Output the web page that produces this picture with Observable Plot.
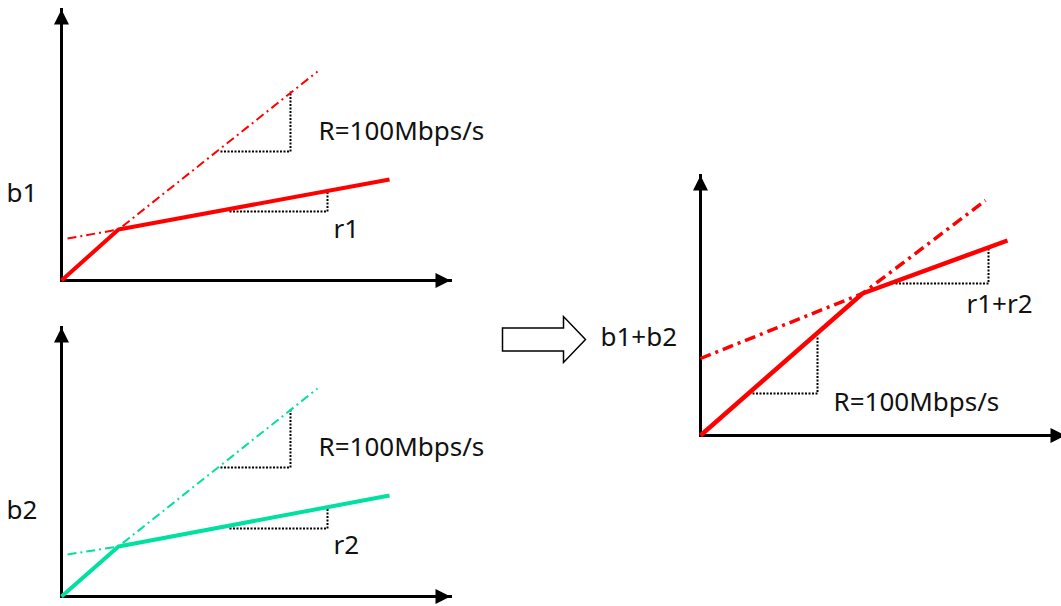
<!DOCTYPE html>
<html>
<head>
<meta charset="utf-8">
<script src="https://cdn.jsdelivr.net/npm/d3@7"></script>
<script src="https://cdn.jsdelivr.net/npm/@observablehq/plot@0.6"></script>
<style>
  html, body { margin: 0; padding: 0; background: #fff; }
  #page { position: relative; width: 1061px; height: 606px; overflow: hidden; background: #fff; }
  #page svg { position: absolute; }
</style>
</head>
<body>
<div id="page"></div>
<script>
// Token-bucket arrival curves. t = time, b = bits (arbitrary units, 1 unit = 10 px).

// Flow 1
const b1Curve     = [{t: 0, b: 0}, {t: 5.7, b: 5.1}, {t: 32.8, b: 10.1}];
const b1Peak      = [{t: 0.6, b: 4.2}, {t: 5.7, b: 5.1}, {t: 25.6, b: 20.9}];
const b1PeakStep  = [{t: 15.9, b: 12.9}, {t: 22.9, b: 12.9}, {t: 22.9, b: 18.9}];
const b1RateStep  = [{t: 16.8, b: 6.9}, {t: 26.6, b: 6.9}, {t: 26.6, b: 9.0}];
const b1Labels    = [
  {t: -5.5, b: 7.9, text: "b1"},
  {t: 25.7, b: 14.1, text: "R=100Mbps/s"},
  {t: 27.2, b: 4.3, text: "r1"}
];
const b1Axes      = [{t0: 0, b0: 0, t: 38.9, b: 0}, {t0: 0, b0: 0, t: 0, b: 27.1}];

// Flow 2
const b2Curve     = [{t: 0, b: 0}, {t: 5.7, b: 5.0}, {t: 32.8, b: 10.1}];
const b2Peak      = [{t: 0.6, b: 4.2}, {t: 5.7, b: 5.0}, {t: 25.6, b: 20.8}];
const b2PeakStep  = [{t: 15.9, b: 12.9}, {t: 22.9, b: 12.9}, {t: 22.9, b: 18.8}];
const b2RateStep  = [{t: 16.8, b: 6.8}, {t: 26.6, b: 6.8}, {t: 26.6, b: 8.9}];
const b2Labels    = [
  {t: -5.5, b: 7.8, text: "b2"},
  {t: 25.7, b: 14.1, text: "R=100Mbps/s"},
  {t: 27.2, b: 4.3, text: "r2"}
];
const b2Axes      = [{t0: 0, b0: 0, t: 38.9, b: 0}, {t0: 0, b0: 0, t: 0, b: 26.9}];

// Aggregate of both flows
const sumCurve    = [{t: 0, b: 0}, {t: 16.2, b: 14.2}, {t: 30.7, b: 19.5}];
const sumEnvelope = [{t: 0, b: 7.7}, {t: 16.2, b: 14.2}, {t: 28.5, b: 23.5}];
const sumPeakStep = [{t: 5.2, b: 4.2}, {t: 11.7, b: 4.2}, {t: 11.7, b: 9.8}];
const sumRateStep = [{t: 19.5, b: 15.2}, {t: 28.8, b: 15.2}, {t: 28.8, b: 18.8}];
const sumLabels   = [
  {t: -10.0, b: 9.0, text: "b1+b2"},
  {t: 13.3, b: 2.5, text: "R=100Mbps/s"},
  {t: 26.6, b: 12.3, text: "r1+r2"}
];
const sumAxes     = [{t0: 0, b0: 0, t: 36.5, b: 0}, {t0: 0, b0: 0, t: 0, b: 26.0}];
const connector   = [{t: -15.65, b: 9.6}];

const RED = "#ff0000";
const TEAL = "#00e0a0";
const FONT = "'Noto Sans', 'DejaVu Sans', sans-serif";

// Filled arrowheads whose tip sits on the dot's position
const headUp = {
  draw(ctx, size) {
    const r = Math.sqrt(size / Math.PI);
    ctx.moveTo(0, 0); ctx.lineTo(r, 2 * r); ctx.lineTo(-r, 2 * r); ctx.closePath();
  }
};
const headRight = {
  draw(ctx, size) {
    const r = Math.sqrt(size / Math.PI);
    ctx.moveTo(0, 0); ctx.lineTo(-2 * r, -r); ctx.lineTo(-2 * r, r); ctx.closePath();
  }
};
// Outlined block arrow, centred on the dot's position
const blockArrow = {
  draw(ctx, size) {
    const s = Math.sqrt(size / Math.PI) / 10;
    const L = 41.5 * s, hx = 19.5 * s, sh = 11.5 * s, hh = 23 * s;
    ctx.moveTo(-L, -sh); ctx.lineTo(hx, -sh); ctx.lineTo(hx, -hh); ctx.lineTo(L, 0);
    ctx.lineTo(hx, hh); ctx.lineTo(hx, sh); ctx.lineTo(-L, sh); ctx.closePath();
  }
};

function axisMarks(axes) {
  return [
    Plot.link(axes, {x1: "t0", y1: "b0", x2: "t", y2: "b", stroke: "black", strokeWidth: 3, strokeLinecap: "square"}),
    Plot.dot([axes[0]], {x: "t", y: "b", r: 7.5, symbol: headRight, fill: "black", stroke: "none"}),
    Plot.dot([axes[1]], {x: "t", y: "b", r: 7.5, symbol: headUp, fill: "black", stroke: "none"})
  ];
}

function labelMarks(labels) {
  return Plot.text(labels, {
    x: "t", y: "b", text: "text", textAnchor: "start", lineAnchor: "bottom",
    fontSize: 26, fontFamily: FONT, fill: "#111"
  });
}

function stepMarks(rows) {
  return Plot.line(rows, {x: "t", y: "b", stroke: "#000", strokeWidth: 2, strokeDasharray: "2,1.5", strokeLinecap: "butt"});
}

function panel({left, top, width, height, originX, originY, marks}) {
  const u = 10;
  const svg = Plot.plot({
    width, height,
    margin: 0,
    style: {background: "transparent", overflow: "visible"},
    x: {domain: [-originX / u, (width - originX) / u], range: [0, width], axis: null},
    y: {domain: [-(height - originY) / u, originY / u], range: [height, 0], axis: null},
    marks
  });
  svg.style.left = left + "px";
  svg.style.top = top + "px";
  document.getElementById("page").appendChild(svg);
}

function flowMarks(color, curve, peak, peakStep, rateStep, labels, axes) {
  return [
    ...axisMarks(axes),
    stepMarks(peakStep),
    stepMarks(rateStep),
    Plot.line(peak, {x: "t", y: "b", stroke: color, strokeWidth: 2, strokeDasharray: "9,4,2,4", strokeLinecap: "butt"}),
    Plot.line(curve, {x: "t", y: "b", stroke: color, strokeWidth: 4, strokeLinecap: "butt"}),
    labelMarks(labels)
  ];
}

panel({
  left: 0, top: 0, width: 490, height: 290, originX: 61, originY: 280,
  marks: flowMarks(RED, b1Curve, b1Peak, b1PeakStep, b1RateStep, b1Labels, b1Axes)
});

panel({
  left: 0, top: 300, width: 490, height: 306, originX: 61, originY: 296,
  marks: flowMarks(TEAL, b2Curve, b2Peak, b2PeakStep, b2RateStep, b2Labels, b2Axes)
});

panel({
  left: 490, top: 160, width: 571, height: 300, originX: 210, originY: 275,
  marks: [
    ...axisMarks(sumAxes),
    Plot.dot(connector, {x: "t", y: "b", r: 10, symbol: blockArrow, fill: "white", stroke: "black", strokeWidth: 1.5}),
    stepMarks(sumPeakStep),
    stepMarks(sumRateStep),
    Plot.line(sumEnvelope, {x: "t", y: "b", stroke: RED, strokeWidth: 3.5, strokeDasharray: "11,5,3,5", strokeLinecap: "butt"}),
    Plot.line(sumCurve, {x: "t", y: "b", stroke: RED, strokeWidth: 4.5, strokeLinecap: "butt"}),
    labelMarks(sumLabels)
  ]
});
</script>
</body>
</html>
